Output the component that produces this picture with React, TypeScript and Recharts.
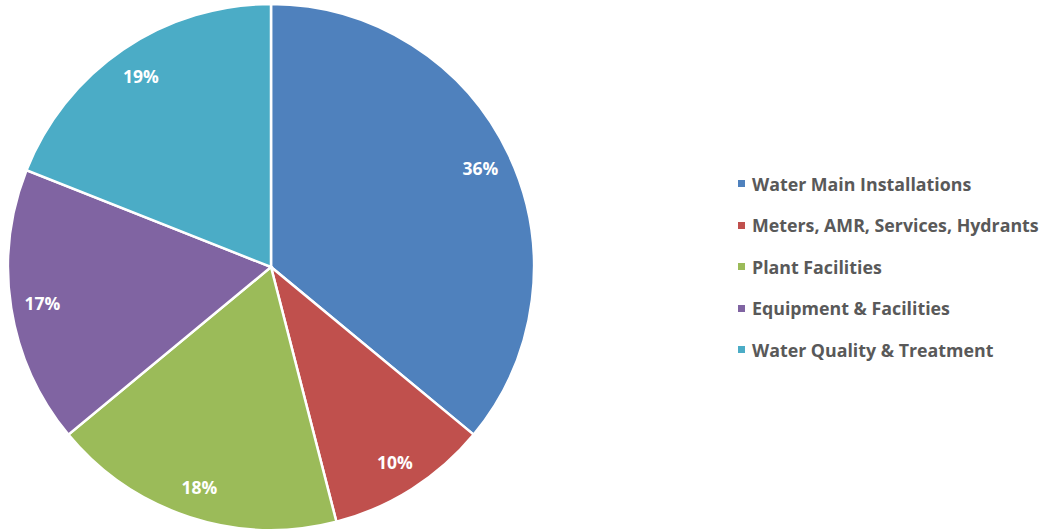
import { PieChart, Pie, Cell, Legend } from 'recharts'

const CATEGORIES = [
  'Water Main Installations',
  'Meters, AMR, Services, Hydrants',
  'Plant Facilities',
  'Equipment & Facilities',
  'Water Quality & Treatment',
]
const SHARES = [36, 10, 18, 17, 19]
const COLORS = ['#4F81BD', '#C0504D', '#9BBB59', '#8064A2', '#4BACC6']

const FONT = '"Open Sans", Lato, sans-serif'
const RAD = Math.PI / 180

const data = CATEGORIES.map((name, i) => ({ name, value: SHARES[i] }))

function SliceLabel(props: any) {
  const { cx, cy, midAngle, outerRadius, percent } = props
  const r = outerRadius * 0.88
  const x = cx + r * Math.cos(-midAngle * RAD)
  const y = cy + r * Math.sin(-midAngle * RAD)
  return (
    <text x={x} y={y} fill="#fff" textAnchor="middle" dominantBaseline="central" fontFamily={FONT} fontWeight={700} fontSize={17.5}>
      {`${Math.round(percent * 100)}%`}
    </text>
  )
}

function LegendBox() {
  return (
    <div style={{ fontFamily: FONT }}>
      {CATEGORIES.map((c, i) => (
        <div key={c} style={{ display: 'flex', alignItems: 'center', height: 41.5 }}>
          <span style={{ width: 7, height: 7, background: COLORS[i], marginRight: 7, display: 'inline-block' }} />
          <span style={{ fontSize: 17.8, fontWeight: 700, color: '#595959', whiteSpace: 'nowrap' }}>{c}</span>
        </div>
      ))}
    </div>
  )
}

export default function App() {
  return (
    <div style={{ width: 1052, height: 531 }}>
      <style>{'body{margin:0}'}</style>
      <PieChart width={1052} height={531} margin={{ top: 0, right: 0, bottom: 0, left: 0 }}>
        <Pie
          data={data}
          dataKey="value"
          nameKey="name"
          cx={271}
          cy={267}
          outerRadius={263}
          startAngle={90}
          endAngle={-270}
          stroke="#fff"
          strokeWidth={2.5}
          label={SliceLabel}
          labelLine={false}
          isAnimationActive={false}
        >
          {data.map((d, i) => (
            <Cell key={d.name} fill={COLORS[i]} />
          ))}
        </Pie>
        <Legend
          layout="vertical"
          align="right"
          verticalAlign="top"
          content={<LegendBox />}
          wrapperStyle={{ left: 738, top: 163, width: 314 }}
        />
      </PieChart>
    </div>
  )
}
